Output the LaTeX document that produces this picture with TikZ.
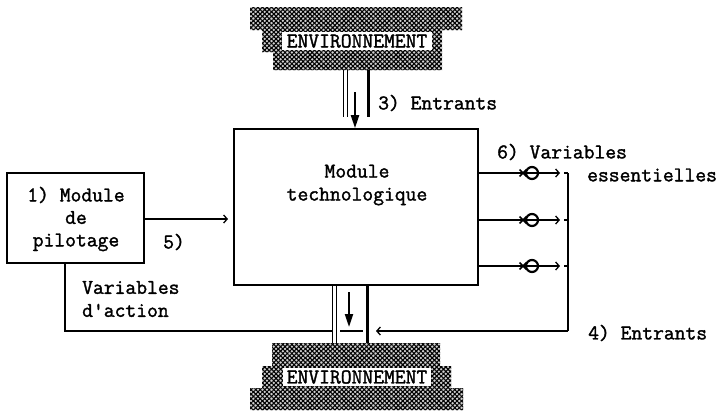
\documentclass[tikz,border=0pt]{standalone}
\usepackage{fontspec}
\newfontfamily\typer[FakeBold=1.6]{Latin Modern Mono}
\usetikzlibrary{arrows.meta,patterns.meta}

\tikzset{
  x=1pt, y=-1pt,
  txt/.style={font=\typer\fontsize{21}{23}\selectfont, inner sep=0pt, text=black},
  blk/.style={draw=black, line width=1.6pt, fill=white},
  wire/.style={line width=1.4pt},
  openhead/.style={-{Straight Barb[length=3.5pt,width=8pt,line width=1.3pt]}},
  solidhead/.style={-{Triangle[length=13pt,width=8pt]}},
  thinrail/.style={line width=0.9pt},
  thickrail/.style={line width=3pt},
  envfill/.style={
    preaction={fill=gray!35},
    preaction={pattern={Lines[angle=45,distance=3.2pt,line width=1.1pt]}},
    pattern={Lines[angle=-45,distance=3.2pt,line width=1.1pt]}},
  envlabel/.style={txt, fill=white, inner xsep=2pt, inner ysep=2pt},
  valve/.style={circle, draw=black, line width=2.2pt, minimum size=12pt, inner sep=0pt},
}

\begin{document}
\begin{tikzpicture}
\useasboundingbox (0,0) rectangle (722,410);

% ---- environment blocks (stepped, stippled) ----
\path[envfill] (250,7) -- (462,7) -- (462,30) -- (442,30) -- (442,70)
  -- (273,70) -- (273,52) -- (262,52) -- (262,30) -- (250,30) -- cycle;
\node[envlabel, minimum width=150pt, minimum height=18pt] (envtop) at (357,41) {ENVIRONNEMENT};

\path[envfill] (272,343) -- (440,343) -- (440,366) -- (451,366) -- (451,388)
  -- (463,388) -- (463,410) -- (250,410) -- (250,388) -- (262,388) -- (262,366)
  -- (272,366) -- cycle;
\node[envlabel, minimum width=148pt, minimum height=17pt] (envbot) at (357,377) {ENVIRONNEMENT};

% ---- modules ----
\node[blk, minimum width=244pt, minimum height=156pt] (tech) at (356,207) {};
\node[txt, align=center] (techlabel) at (357,185) {Module\\technologique};

\node[blk, minimum width=137pt, minimum height=90pt] (pil) at (75.5,218) {};
\node[txt, align=center, font=\typer\fontsize{21}{22.5}\selectfont] (pillabel) at (76,219) {1) Module\\de\\pilotage};

% ---- upper exchange channel ----
\coordinate (ta1) at (343,70);  \coordinate (tb1) at (343,117);
\coordinate (ta2) at (347,70);  \coordinate (tb2) at (347,117);
\coordinate (ta3) at (368,70);  \coordinate (tb3) at (368,117);
\draw[thinrail] (ta1) -- (tb1);
\draw[thinrail] (ta2) -- (tb2);
\draw[thickrail] (ta3) -- (tb3);
\coordinate (tin) at (355,92);
\draw[wire, line width=2pt, solidhead] (tin) -- (tin |- tech.north);
\node[txt, anchor=west] (in3) at (378,103) {3) Entrants};

% ---- lower exchange channel ----
\coordinate (ba1) at (332,285); \coordinate (bb1) at (332,343);
\coordinate (ba2) at (336,285); \coordinate (bb2) at (336,343);
\coordinate (ba3) at (367,285); \coordinate (bb3) at (367,343);
\draw[thinrail] (ba1) -- (bb1);
\draw[thinrail] (ba2) -- (bb2);
\draw[thickrail] (ba3) -- (bb3);
\coordinate (bin) at (349,292); \coordinate (bout) at (349,327);
\draw[wire, line width=2pt, solidhead] (bin) -- (bout);
\coordinate (bh1) at (340,331); \coordinate (bh2) at (363,331);
\draw[wire] (bh1) -- (bh2);

% ---- action variables (pilotage -> technology) ----
\coordinate (act) at (pil.east |- 0,219);
\draw[wire, openhead] (act) -- (228,219);
\node[txt, anchor=west] (lab5) at (163,242) {5)};

% ---- feedback from pilotage to the lower channel ----
\coordinate (fb) at (65,263);
\coordinate (fbend) at (332,331);
\draw[wire] (fb) |- (fbend);
\node[txt, anchor=west, align=left] (actlabel) at (82,299) {Variables\\d'action};

% ---- essential variables ----
\coordinate (bus) at (568,173);
\coordinate (busend) at (568,331);
\foreach \yy/\nm in {173/a, 220/b, 266/c} {
  \coordinate (o\nm) at (tech.east |- 0,\yy);
  \coordinate (k\nm) at (523,\yy);
  \draw[wire] (o\nm) -- (550,\yy);
  \draw[wire, openhead] (550,\yy) -- (560,\yy);
  \draw[line width=1.5pt] ([shift={(-3.5,-3.5)}]k\nm) -- ([shift={(3.5,3.5)}]k\nm)
                          ([shift={(-3.5,3.5)}]k\nm) -- ([shift={(3.5,-3.5)}]k\nm);
  \node[valve] (v\nm) at (532,\yy) {};
  \draw[line width=1.2pt] (564,\yy) -- (bus |- 0,\yy);
}
\draw[wire] (bus) -- (busend);
\coordinate (in4) at (376,331);
\draw[wire, openhead] (busend) -- (in4);
\node[txt, anchor=west] (lab6) at (497,152) {6) Variables};
\node[txt, anchor=west] (lab6b) at (587,175) {essentielles};
\node[txt, anchor=west] (lab4) at (588,333) {4) Entrants};
\end{tikzpicture}
\end{document}
